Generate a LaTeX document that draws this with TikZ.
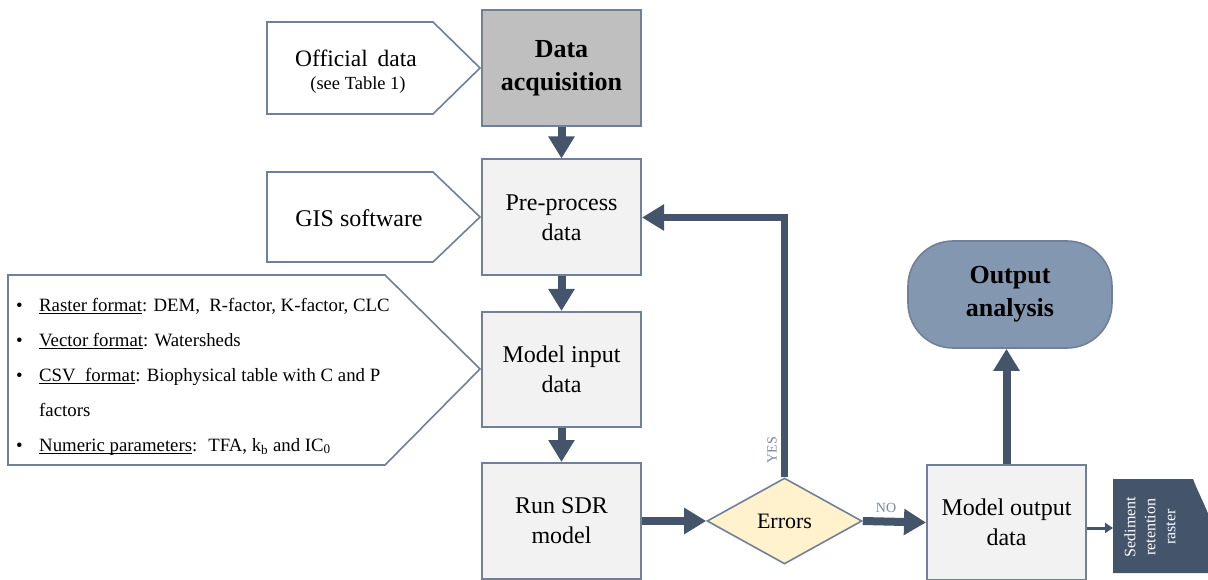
\documentclass[tikz,border=0pt]{standalone}
\usepackage{fontspec}
\setmainfont{Liberation Serif}
\usetikzlibrary{arrows.meta,shapes.geometric,calc}

\definecolor{arrowc}{RGB}{68,84,106}
\definecolor{edgec}{RGB}{112,128,152}
\definecolor{boxfill}{RGB}{242,242,242}
\definecolor{acqfill}{RGB}{191,191,191}
\definecolor{anafill}{RGB}{132,151,176}
\definecolor{decfill}{RGB}{255,242,204}
\definecolor{labelc}{RGB}{120,136,160}

% underline at a fixed depth below the baseline
\newlength\ulwd
\newcommand{\uln}[1]{\settowidth{\ulwd}{#1}\rlap{\rule[-2.5pt]{\ulwd}{0.9pt}}#1}

\tikzset{
  stepbox/.style={draw=edgec, line width=2pt, fill=boxfill, minimum width=159pt,
    minimum height=116pt, align=center, inner sep=0pt,
    font=\fontsize{24}{30}\selectfont},
  srcedge/.style={draw=edgec, line width=1.6pt, fill=white, line join=miter},
  srctext/.style={inner sep=0pt, font=\fontsize{23.5}{30}\selectfont},
  bullettext/.style={inner sep=0pt, font=\fontsize{18.8}{35}\selectfont},
  flow/.style={draw=arrowc, line width=8pt, -{Triangle[width=25pt,length=22pt]}},
  thinflow/.style={draw=arrowc, line width=3pt, -{Triangle[width=10pt,length=8pt]}},
  flowlabel/.style={inner sep=0pt, text=labelc, font=\fontsize{14}{16}\selectfont},
}

\begin{document}
\begin{tikzpicture}[x=1pt,y=-1pt]
\useasboundingbox (0,0) rectangle (1208,580);
\clip (0,0) rectangle (1208,580);

% --- input sources (arrow-shaped panels) ---
\draw[srcedge] (267,22) -- (433,22) -- (480,68) -- (433,114) -- (267,114) -- cycle;
\node[srctext] (off) at (356,58) {Official\, data};
\node[srctext, font=\fontsize{18.5}{20}\selectfont] (offnote) at (358,85) {(see Table 1)};

\draw[srcedge] (267,172) -- (433,172) -- (480,217) -- (433,262) -- (267,262) -- cycle;
\node[srctext, font=\fontsize{24}{30}\selectfont] (gis) at (359,218) {GIS software};

\draw[srcedge] (8,275) -- (385,275) -- (480,369) -- (385,465) -- (8,465) -- cycle;
\node[bullettext, anchor=base west] (bl1) at (16,311)
  {\makebox[23pt][l]{\textbullet}\uln{Raster\ format}: DEM,\ \ R-factor, K-factor, CLC};
\node[bullettext, anchor=base west] (bl2) at (16,346)
  {\makebox[23pt][l]{\textbullet}\uln{Vector\ format}: Watersheds};
\node[bullettext, anchor=base west] (bl3) at (16,381)
  {\makebox[23pt][l]{\textbullet}\uln{CSV\ \ format}: Biophysical\ table with C and P};
\node[bullettext, anchor=base west] (bl4) at (39,416) {factors};
\node[bullettext, anchor=base west] (bl5) at (16,451)
  {\makebox[23pt][l]{\textbullet}\uln{Numeric parameters}: \ TFA, k\textsubscript{b} and IC\textsubscript{0}};

% --- main process chain ---
\node[stepbox, fill=acqfill, font=\bfseries\fontsize{26}{33}\selectfont] (acq) at (561.5,68)
  {\raisebox{-3pt}{Data}\\\raisebox{-3pt}{acquisition}};
\node[stepbox] (pre) at (561.5,217.5) {Pre-process\\data};
\node[stepbox, minimum height=115pt] (inp) at (561.5,369.5) {Model input\\data};
\node[stepbox] (run) at (561.5,521) {Run SDR\\model};

\node[diamond, draw=edgec, line width=1.6pt, fill=decfill, inner sep=0pt, aspect=1.8,
      minimum width=155pt, minimum height=86pt, font=\fontsize{22}{26}\selectfont] (dia) at (784.5,521) {Errors};

\node[stepbox, minimum height=115pt] (out) at (1006.5,522.5)
  {\raisebox{-2pt}{Model output}\\\raisebox{-2pt}{data}};

\node[draw=edgec, line width=1.6pt, fill=anafill, rounded corners=45pt, minimum width=204pt,
      minimum height=107pt, inner sep=0pt, align=center,
      font=\bfseries\fontsize{26}{33}\selectfont] (ana) at (1010,294.5) {Output\\analysis};

% --- output raster document ---
\fill[arrowc] (1113,479) -- (1193,479) .. controls (1201,500) and (1210,512) .. (1216,540)
  -- (1216,573) -- (1113,573) -- cycle;
\node[rotate=90, text=white, align=center, inner sep=0pt,
      font=\fontsize{16}{20}\selectfont] (rast) at (1150,527) {Sediment\\retention\\raster};
\coordinate (rastin) at (1113,528);

% --- connectors ---
\draw[flow] (acq.south) -- (pre.north);
\draw[flow] (pre.south) -- (inp.north);
\draw[flow] (inp.south) -- (run.north);
\draw[flow] (run.east) -- (dia.west);
\draw[flow] (dia.east) -- (out.west);
\draw[flow, line width=7.5pt, line join=miter] (dia.north) -- (dia.north |- pre.east) -- (pre.east);
\draw[flow] (out.north) -- (out.north |- ana.south);
\draw[thinflow] (out.east |- rastin) -- (rastin);

% --- decision labels ---
\node[flowlabel, rotate=90] (yes) at (772,450) {YES};
\node[flowlabel] (no) at (886,508) {NO};
\end{tikzpicture}
\end{document}
